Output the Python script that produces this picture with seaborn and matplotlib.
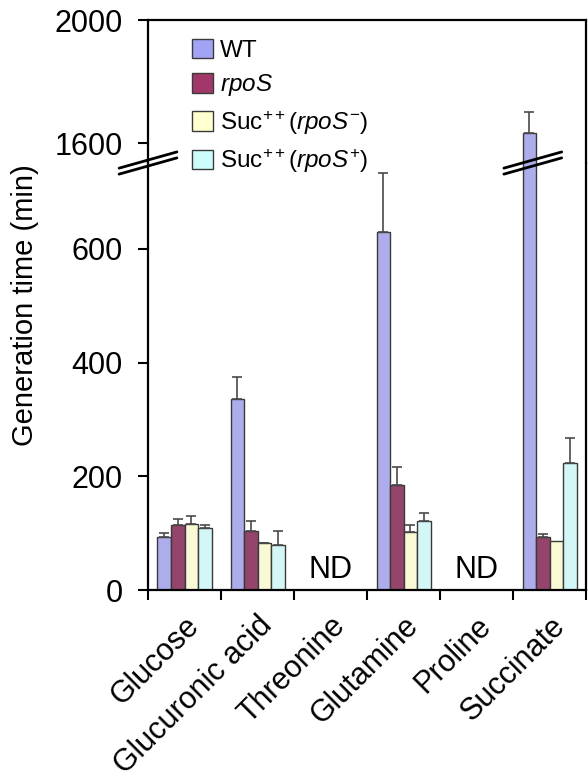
import numpy as np
import pandas as pd
import matplotlib
matplotlib.use("Agg")
import matplotlib.pyplot as plt
from matplotlib.patches import Patch
import seaborn as sns

# data (generation time, min)
media = ["Glucose", "Glucuronic acid", "Threonine", "Glutamine", "Proline", "Succinate"]
strains = ["WT", "rpoS", "Suc- ", "Suc+ "]
wt = [94, 336, np.nan, 629, np.nan, 1632]
wt_err = [6, 39, np.nan, 104, np.nan, 68]
rpos = [114, 104, np.nan, 185, np.nan, 93]
rpos_err = [11, 18, np.nan, 32, np.nan, 5]
suc_minus = [117, 82, np.nan, 102, np.nan, 86]
suc_minus_err = [14, 1, np.nan, 12, np.nan, 0]
suc_plus = [109, 80, np.nan, 122, np.nan, 224]
suc_plus_err = [5, 24, np.nan, 14, np.nan, 43]
legend_labels = ["WT", r"$\it{rpoS}$", r"Suc$^{++}$($\it{rpoS}^{-}$)", r"Suc$^{++}$($\it{rpoS}^{+}$)"]
nd_media = ["Threonine", "Proline"]
colors = ["#a3a3f5", "#a2386a", "#ffffcf", "#cdfcfc"]

sns.set_style("white")
plt.rcParams["font.family"] = ["Liberation Sans", "DejaVu Sans"]
plt.rcParams["mathtext.fontset"] = "custom"
plt.rcParams["mathtext.rm"] = "Liberation Sans"
plt.rcParams["mathtext.it"] = "Liberation Sans:italic"
plt.rcParams["text.color"] = "black"
plt.rcParams["xtick.color"] = "black"
plt.rcParams["ytick.color"] = "black"

vals = [wt, rpos, suc_minus, suc_plus]
errs = [wt_err, rpos_err, suc_minus_err, suc_plus_err]
rows = []
for s, v, e in zip(strains, vals, errs):
    for m, y, err in zip(media, v, e):
        rows.append({"medium": m, "strain": s, "time": y, "err": err})
df = pd.DataFrame(rows)
df_plot = df.dropna()

fig = plt.figure(figsize=(5.88, 7.73), dpi=100)
ax_top = fig.add_axes([0.2517, 0.7891, 0.745, 0.185])
ax_bot = fig.add_axes([0.2517, 0.2367, 0.745, 0.5524])

width = 0.74
bw = width / len(strains)
for ax in (ax_top, ax_bot):
    sns.barplot(data=df_plot, x="medium", y="time", hue="strain", order=media,
                hue_order=strains, palette=colors, width=width, errorbar=None,
                edgecolor="#3a3a3a", linewidth=1.0, legend=False, ax=ax)
    # upper error bars only
    for j, s in enumerate(strains):
        sub = df[df["strain"] == s]
        for i, m in enumerate(media):
            r = sub[sub["medium"] == m].iloc[0]
            if np.isnan(r["time"]) or r["err"] <= 0:
                continue
            x = i + (j - 1.5) * bw
            ax.errorbar(x, r["time"], yerr=[[0], [r["err"]]], fmt="none",
                        ecolor="#4a4a4a", elinewidth=1.2, capsize=3.5, capthick=1.2)
    ax.set_xlim(-0.5, len(media) - 0.5)
    ax.set_xlabel("")
    ax.set_ylabel("")
    for sp in ax.spines.values():
        sp.set_color("black")
        sp.set_linewidth(1.6)
    ax.tick_params(axis="y", direction="out", length=7, width=1.5, labelsize=22,
                   left=True, pad=11)

ax_top.set_ylim(1535, 2000)
ax_top.set_yticks([1600, 2000])
ax_top.spines["bottom"].set_visible(False)
ax_top.set_xticks([])

ax_bot.set_ylim(0, 751)
ax_bot.set_yticks([0, 200, 400, 600])
ax_bot.spines["top"].set_visible(False)
ax_bot.set_xticks(range(len(media)))
ax_bot.set_xticklabels(media, rotation=45, ha="right", rotation_mode="anchor", fontsize=22)
ax_bot.tick_params(axis="x", length=0, pad=15)
ax_bot.set_xticks(np.arange(-0.5, len(media)), minor=True)
ax_bot.tick_params(axis="x", which="minor", direction="out", length=7, width=1.5, bottom=True)

for m in nd_media:
    ax_bot.text(media.index(m), 35, "ND", ha="center", va="center", fontsize=22)

fig.text(0.042, 0.605, "Generation time (min)", rotation=90, ha="center", va="center", fontsize=21)

# axis break marks, x given in axes fraction of the bottom axes
def break_mark(xf):
    dx, dy, off = 0.066, 0.019, 0.007
    for o in (-off, off):
        ax_bot.plot([xf - dx, xf + dx], [1 - dy + o, 1 + dy + o], color="black", lw=2,
                    transform=ax_bot.transAxes, clip_on=False, zorder=10)

x0, x1 = ax_bot.get_xlim()
wt_succ_x = media.index("Succinate") - 1.5 * bw
break_mark(0.0)
break_mark((wt_succ_x - x0) / (x1 - x0) + 0.008)

handles = [Patch(facecolor=c, edgecolor="#3a3a3a", linewidth=1.0) for c in colors]
fig.legend(handles, legend_labels, loc="upper left", bbox_to_anchor=(0.31, 0.962),
           frameon=False, fontsize=17.5, handlelength=0.85, handleheight=0.85,
           handletextpad=0.3, labelspacing=0.42, borderaxespad=0)

fig.savefig("out.png", dpi=100)
